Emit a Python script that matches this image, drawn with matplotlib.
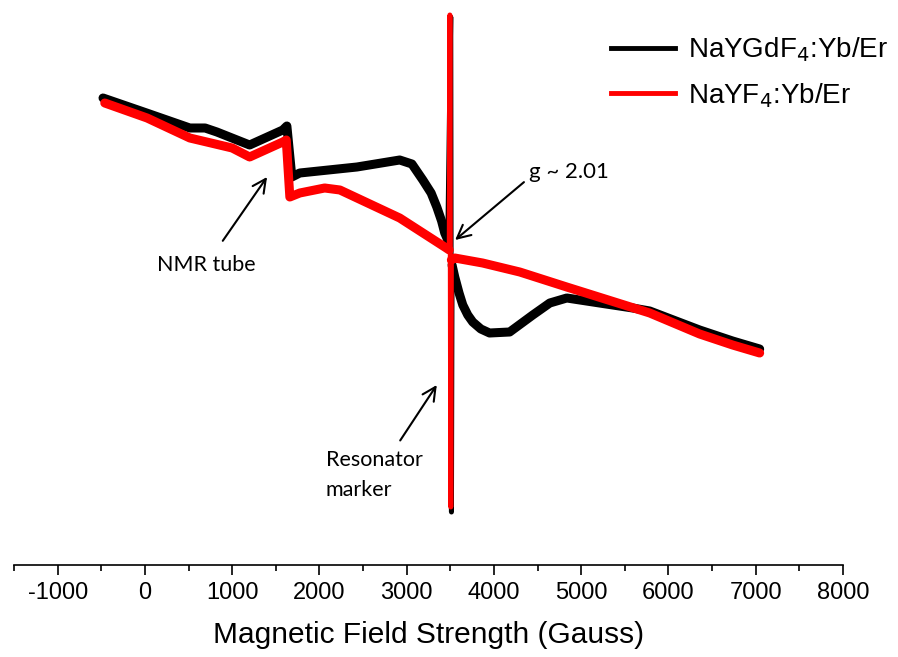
import numpy as np
import matplotlib
matplotlib.use("Agg")
from matplotlib import pyplot as plt

# EPR spectra, field in Gauss, signal in arbitrary units
field_gdf = [-480, 20, 515, 690, 825, 1200, 1580, 1627, 1684, 1775, 2430, 2920, 3060,
             3185, 3280, 3345, 3400, 3436, 3471, 3505, 3513, 3520, 3551, 3600, 3643,
             3700, 3757, 3850, 3950, 4180, 4445, 4640, 4835, 5210, 5590, 5785, 6357,
             6735, 7045]
signal_gdf = [467, 452, 437, 437, 433, 420, 435, 439, 388, 392, 398, 405, 401,
              385, 372, 358, 344, 332, 325, 548, 53, 300, 288, 272, 260,
              250, 243, 236, 232, 233, 250, 262, 267, 262, 257, 254, 235,
              224, 216]

field_yf = [-460, 25, 515, 1000, 1200, 1580, 1620, 1661, 1775, 2060, 2235, 2920,
            3436, 3488, 3495, 3505, 3512, 3551, 3870, 4296, 4834, 5785, 6357,
            6735, 7045]
signal_yf = [462, 447, 427, 417, 408, 423, 425, 368, 372, 377, 375, 347,
             318, 315, 550, 58, 305, 307, 302, 293, 278, 252, 231,
             220, 212]

xticks_major = [-1000, 0, 1000, 2000, 3000, 4000, 5000, 6000, 7000, 8000]
legend_labels = ["NaYGdF$_4$:Yb/Er", "NaYF$_4$:Yb/Er"]

plt.rcParams["font.family"] = ["Liberation Sans", "DejaVu Sans"]
plt.rcParams["axes.unicode_minus"] = False
note_font = ["Lato", "DejaVu Sans"]

fig = plt.figure(figsize=(8.98, 6.57), dpi=100)
ax = fig.add_axes([14 / 898, 92 / 657, 829 / 898, 560 / 657])


def draw_trace(field, signal, color, label):
    field = np.asarray(field, dtype=float)
    signal = np.asarray(signal, dtype=float)
    # thin line carries the resonator spike, the thick one the noisy baseline
    ax.plot(field, signal, color=color, lw=3.6, solid_joinstyle="round", label=label)
    base = np.where((signal > 500) | (signal < 100), np.nan, signal)
    ax.plot(field, base, color=color, lw=6.5, solid_joinstyle="round",
            solid_capstyle="round")


draw_trace(field_gdf, signal_gdf, "black", legend_labels[0])
draw_trace(field_yf, signal_yf, "#ff0000", legend_labels[1])

ax.set_xlim(-1500, 8000)
ax.set_ylim(0, 560)

for s in ["left", "top", "right"]:
    ax.spines[s].set_visible(False)
ax.spines["bottom"].set_linewidth(1.2)
ax.set_yticks([])
ax.set_xticks(xticks_major)
ax.set_xticks(np.arange(-1500, 8000, 500), minor=True)
ax.tick_params(axis="x", which="major", direction="out", length=7.5, width=1.2,
               labelsize=17, pad=5)
ax.tick_params(axis="x", which="minor", direction="out", length=4, width=1.2)
ax.set_xlabel("Magnetic Field Strength (Gauss)", fontsize=21.5, labelpad=12)

leg = ax.legend(loc="upper right", bbox_to_anchor=(1.075, 0.975), frameon=False,
                fontsize=20, handlelength=2.3, handletextpad=0.5,
                labelspacing=0.6, borderaxespad=0.2)
for line in leg.get_lines():
    line.set_linewidth(3.5)

arrow = dict(arrowstyle="->", color="black", lw=1.5, mutation_scale=24)
ax.annotate("g ~ 2.01", xy=(3555, 325), xytext=(4400, 393), fontsize=16,
            family=note_font, va="center", ha="left",
            arrowprops=dict(arrow, shrinkA=2, shrinkB=0, relpos=(0.0, 0.2)))
ax.annotate("NMR tube", xy=(1400, 388), xytext=(700, 300), fontsize=15.5,
            family=note_font, va="center", ha="center",
            arrowprops=dict(arrow, shrinkA=10, shrinkB=0))
ax.annotate("Resonator\nmarker", xy=(3345, 180), xytext=(2075, 90), fontsize=15.5,
            family=note_font, va="center", ha="left", linespacing=1.6,
            arrowprops=dict(arrow, shrinkA=6, shrinkB=0, relpos=(0.7, 1.0)))

fig.savefig("out.png", dpi=100)
